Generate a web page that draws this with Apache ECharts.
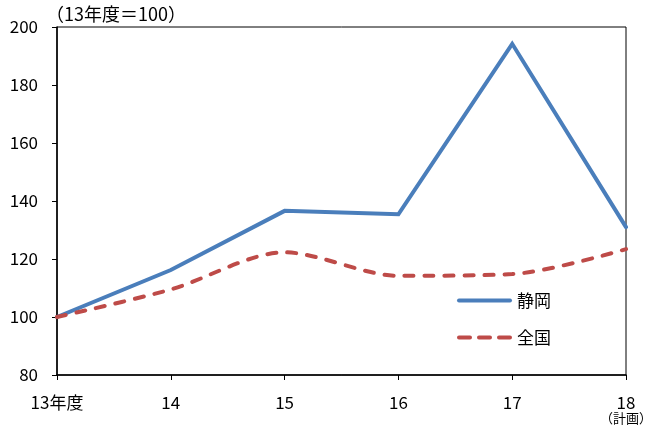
<!DOCTYPE html>
<html>
<head>
<meta charset="utf-8">
<script src="https://cdn.jsdelivr.net/npm/echarts@6/dist/echarts.min.js"></script>
<style>
  html, body { margin: 0; padding: 0; background: #fff; }
  #chart { width: 650px; height: 426px; }
</style>
</head>
<body>
<div id="chart"></div>
<script>
// 年度区分と指数（13年度＝100）
const categories = ['13年度', '14', '15', '16', '17', '18'];
const shizuoka = [100, 116.2, 136.6, 135.4, 194.2, 131.0];
const zenkoku = [100, 109.5, 122.3, 114.2, 114.8, 123.4];
const yTicks = { min: 80, max: 200, interval: 20 };

const FONT = '"Noto Sans CJK JP", "Noto Sans", sans-serif';
const BLUE = '#4a7ebb';
const RED = '#be4b48';

// 凡例アイコン：実線と破線（角丸の線分）
const solidIcon = 'path://M2,0H53A2,2,0,0,1,53,4H2A2,2,0,0,1,2,0Z';
const dashIcon = 'path://M2,0H13A2,2,0,0,1,13,4H2A2,2,0,0,1,2,0Z' +
  'M22,0H33A2,2,0,0,1,33,4H22A2,2,0,0,1,22,0Z' +
  'M42,0H53A2,2,0,0,1,53,4H42A2,2,0,0,1,42,0Z';

const chart = echarts.init(document.getElementById('chart'), null, { renderer: 'canvas' });

chart.setOption({
  animation: false,
  backgroundColor: '#ffffff',
  textStyle: { fontFamily: FONT },
  title: {
    text: '（13年度＝100）',
    left: 46,
    top: 5,
    padding: 0,
    textStyle: { fontFamily: FONT, fontSize: 18, fontWeight: 'normal', color: '#000', lineHeight: 18 }
  },
  grid: {
    left: 57, right: 24, top: 27, bottom: 51,
    outerBoundsMode: 'none',
    containLabel: false,
    show: true, borderColor: '#000', borderWidth: 1, backgroundColor: 'transparent'
  },
  legend: {
    orient: 'vertical',
    left: 457,
    top: 292,
    padding: 0,
    itemWidth: 55,
    itemHeight: 4,
    itemGap: 20,
    textStyle: { fontFamily: FONT, fontSize: 17, color: '#000', lineHeight: 17 },
    data: [
      { name: '静岡', icon: solidIcon, itemStyle: { color: BLUE } },
      { name: '全国', icon: dashIcon, itemStyle: { color: RED } }
    ]
  },
  xAxis: {
    type: 'category',
    data: categories,
    boundaryGap: false,
    axisLine: { lineStyle: { color: '#000', width: 1.5 } },
    axisTick: { show: true, interval: 0, length: 5, lineStyle: { color: '#000' } },
    axisLabel: {
      interval: 0,
      hideOverlap: false,
      color: '#000',
      fontSize: 17,
      fontFamily: FONT,
      margin: 19,
      lineHeight: 17,
      formatter: function (v, i) {
        return i === categories.length - 1 ? v + '\n{s|（計画）}' : v;
      },
      rich: { s: { fontSize: 13, lineHeight: 15, fontFamily: FONT, color: '#000' } }
    },
    splitLine: { show: false }
  },
  yAxis: {
    type: 'value',
    min: yTicks.min,
    max: yTicks.max,
    interval: yTicks.interval,
    axisLine: { show: true, lineStyle: { color: '#000', width: 1.5 } },
    axisTick: { show: true, length: 5, lineStyle: { color: '#000' } },
    axisLabel: { color: '#000', fontSize: 17, fontFamily: FONT, margin: 19 },
    splitLine: { show: false }
  },
  series: [
    {
      name: '静岡',
      type: 'line',
      data: shizuoka,
      symbol: 'none',
      color: BLUE,
      lineStyle: { color: BLUE, width: 4, cap: 'round', join: 'miter' }
    },
    {
      name: '全国',
      type: 'line',
      data: zenkoku,
      symbol: 'none',
      smooth: 0.3,
      color: RED,
      lineStyle: { color: RED, width: 4, type: [9, 11], cap: 'round' }
    }
  ]
});
</script>
</body>
</html>
